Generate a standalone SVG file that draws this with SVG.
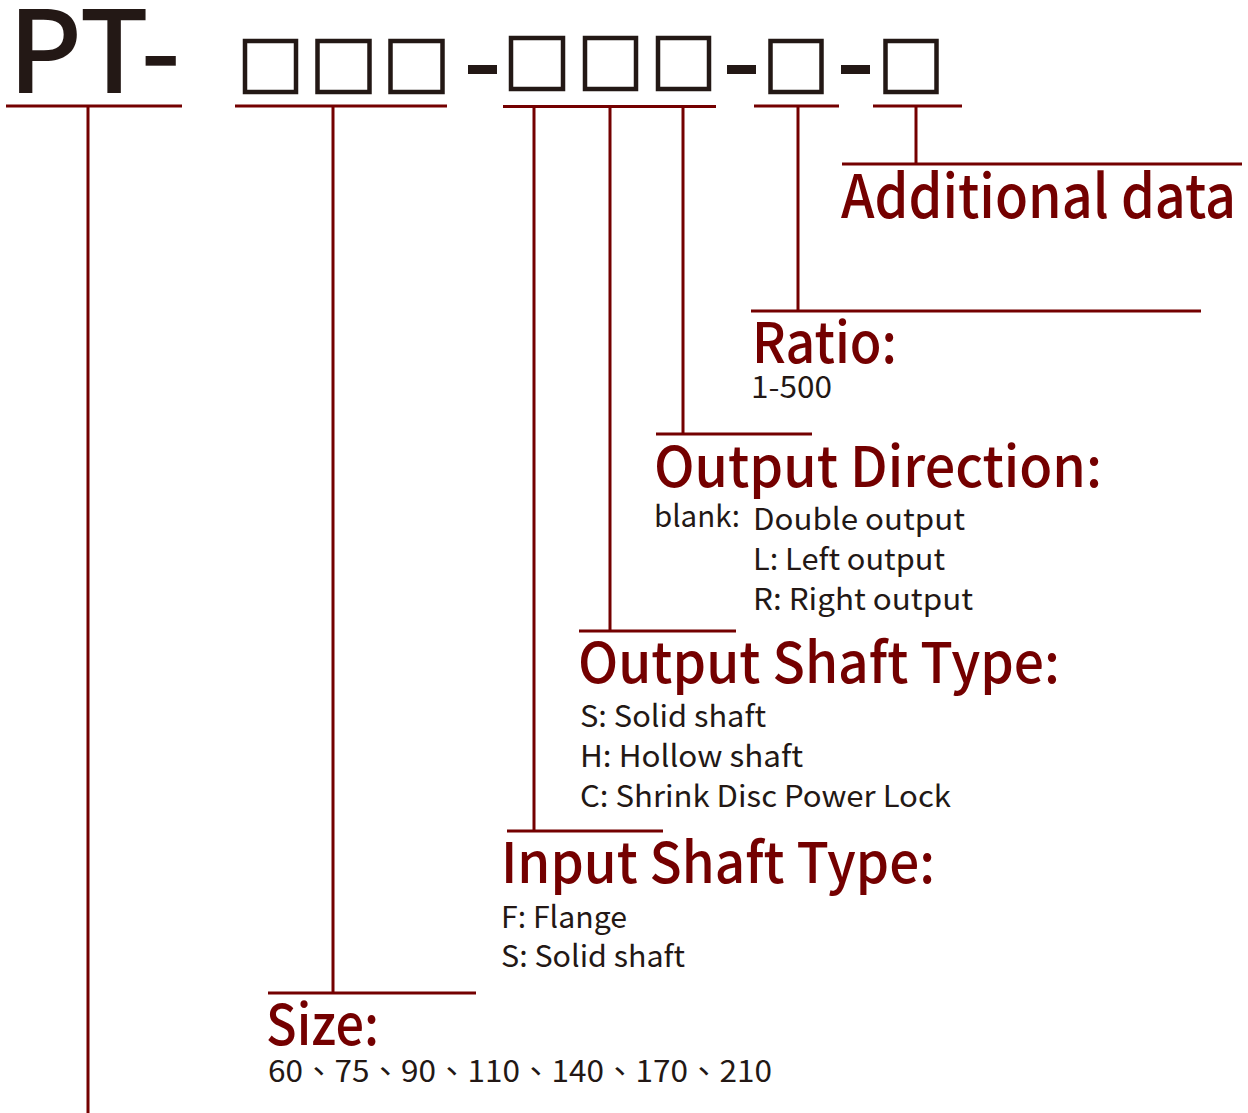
<svg xmlns="http://www.w3.org/2000/svg" width="1248" height="1113" viewBox="0 0 1248 1113">
<style>
text{font-family:"Noto Sans CJK TC","Noto Sans",sans-serif;}
.h{fill:#740000;font-size:56px;font-weight:500;}
.s{fill:#231815;font-size:30px;font-weight:400;}
.ln{stroke:#740000;stroke-width:3;fill:none;}
.box{fill:none;stroke:#231815;stroke-width:4.5;}
.dash{fill:#231815;}
</style>
<rect width="1248" height="1113" fill="#fff"/>
<g id="code">
<text x="8" y="93" style="font-size:114px;font-weight:500;fill:#231815" textLength="173" lengthAdjust="spacingAndGlyphs">PT-</text>
<rect class="box" x="245" y="41" width="51" height="51"/>
<rect class="box" x="317.5" y="41" width="52" height="51"/>
<rect class="box" x="390.5" y="41" width="52" height="51"/>
<rect class="dash" x="468" y="65" width="29" height="9"/>
<rect class="box" x="511" y="38" width="52" height="51"/>
<rect class="box" x="585" y="38" width="51" height="51"/>
<rect class="box" x="658" y="38" width="51" height="51"/>
<rect class="dash" x="727" y="65" width="29" height="9"/>
<rect class="box" x="770.5" y="41" width="51" height="51"/>
<rect class="dash" x="841" y="65" width="29" height="9"/>
<rect class="box" x="885.5" y="41" width="51" height="51"/>
</g>
<g id="connectors">
<line class="ln" x1="6" y1="106" x2="182" y2="106"/>
<line class="ln" x1="88" y1="106" x2="88" y2="1113"/>
<line class="ln" x1="235" y1="106" x2="447" y2="106"/>
<line class="ln" x1="333" y1="106" x2="333" y2="993"/>
<line class="ln" x1="268" y1="993" x2="476" y2="993"/>
<line class="ln" x1="503" y1="106.5" x2="716" y2="106.5"/>
<line class="ln" x1="534" y1="106" x2="534" y2="831"/>
<line class="ln" x1="507" y1="831" x2="663" y2="831"/>
<line class="ln" x1="610" y1="106" x2="610" y2="631"/>
<line class="ln" x1="579" y1="631" x2="736" y2="631"/>
<line class="ln" x1="683" y1="106" x2="683" y2="434"/>
<line class="ln" x1="656" y1="434" x2="812" y2="434"/>
<line class="ln" x1="754" y1="106" x2="839" y2="106"/>
<line class="ln" x1="798" y1="106" x2="798" y2="311"/>
<line class="ln" x1="751" y1="311" x2="1201" y2="311"/>
<line class="ln" x1="873" y1="106" x2="962" y2="106"/>
<line class="ln" x1="916" y1="106" x2="916" y2="164"/>
<line class="ln" x1="842" y1="164" x2="1242" y2="164"/>
</g>
<g id="additional">
<text class="h" x="841" y="218" style="font-size:60px" textLength="395" lengthAdjust="spacingAndGlyphs">Additional data</text>
</g>
<g id="ratio">
<text class="h" x="752" y="363" textLength="145" lengthAdjust="spacingAndGlyphs">Ratio:</text>
<text class="s" x="751" y="398" textLength="81" lengthAdjust="spacingAndGlyphs">1-500</text>
</g>
<g id="output-direction">
<text class="h" x="654" y="487" textLength="448" lengthAdjust="spacingAndGlyphs">Output Direction:</text>
<text class="s" x="654" y="527" textLength="86" lengthAdjust="spacingAndGlyphs">blank:</text>
<text class="s" x="753" y="530" textLength="212" lengthAdjust="spacingAndGlyphs">Double output</text>
<text class="s" x="753" y="570" textLength="192" lengthAdjust="spacingAndGlyphs">L: Left output</text>
<text class="s" x="753" y="610" textLength="220" lengthAdjust="spacingAndGlyphs">R: Right output</text>
</g>
<g id="output-shaft">
<text class="h" x="578" y="683" textLength="482" lengthAdjust="spacingAndGlyphs">Output Shaft Type:</text>
<text class="s" x="580" y="727" textLength="186" lengthAdjust="spacingAndGlyphs">S: Solid shaft</text>
<text class="s" x="580" y="767" textLength="223" lengthAdjust="spacingAndGlyphs">H: Hollow shaft</text>
<text class="s" x="580" y="807" textLength="371" lengthAdjust="spacingAndGlyphs">C: Shrink Disc Power Lock</text>
</g>
<g id="input-shaft">
<text class="h" x="501" y="883" textLength="434" lengthAdjust="spacingAndGlyphs">Input Shaft Type:</text>
<text class="s" x="501" y="928" textLength="126" lengthAdjust="spacingAndGlyphs">F: Flange</text>
<text class="s" x="501" y="967" textLength="184" lengthAdjust="spacingAndGlyphs">S: Solid shaft</text>
</g>
<g id="size">
<text class="h" x="266" y="1045" textLength="113" lengthAdjust="spacingAndGlyphs">Size:</text>
<text class="s" x="268" y="1082" textLength="504" lengthAdjust="spacingAndGlyphs">60、75、90、110、140、170、210</text>
</g>
</svg>
